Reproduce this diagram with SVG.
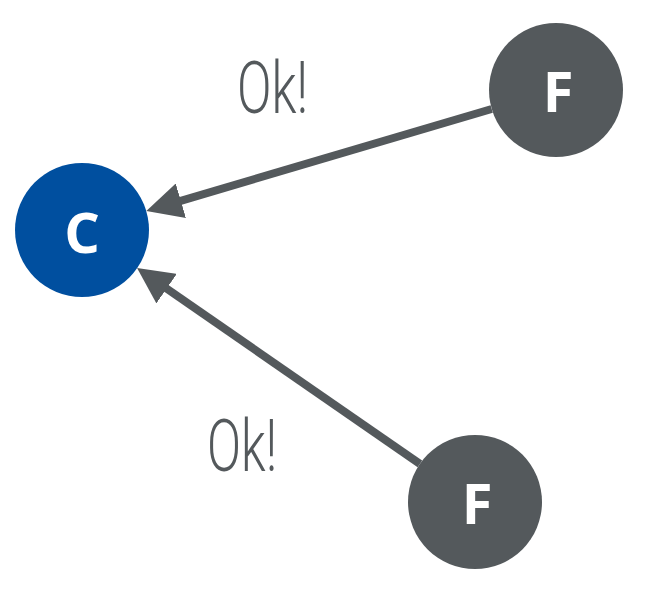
<svg xmlns="http://www.w3.org/2000/svg" width="657" height="601" viewBox="0 0 657 601">
<style>
.edge{stroke:#54595c;stroke-width:8;fill:none}
.nodeF{fill:#54595c}
.nodeC{fill:#004f9f}
.nl{font-family:"Open Sans","Liberation Sans",sans-serif;font-weight:700;font-size:56px;fill:#ffffff;text-anchor:middle}
.lbl{font-family:Roboto,"Liberation Sans",sans-serif;font-weight:300;font-size:73px;fill:#54595c}
</style>
<defs>
<marker id="arr" markerUnits="userSpaceOnUse" viewBox="0 0 36 36" markerWidth="36" markerHeight="36" refX="16" refY="18" orient="auto">
<path d="M0,0 L36,18 L0,36 z" fill="#54595c"/>
</marker>
</defs>
<rect width="657" height="601" fill="#ffffff"/>
<g id="connectors">
<line class="edge" x1="491.7" y1="109" x2="165.5" y2="205.3" marker-end="url(#arr)"/>
<line class="edge" x1="419.9" y1="463.9" x2="153.5" y2="279.5" marker-end="url(#arr)"/>
<text class="lbl" x="237" y="113" textLength="71" lengthAdjust="spacingAndGlyphs">Ok!</text>
<text class="lbl" x="207" y="471" textLength="70" lengthAdjust="spacingAndGlyphs">Ok!</text>
</g>
<g id="node-C">
<circle class="nodeC" cx="82" cy="230" r="67"/>
<text class="nl" x="82" y="253">C</text>
</g>
<g id="node-F1">
<circle class="nodeF" cx="556" cy="90" r="67"/>
<text class="nl" x="558" y="112">F</text>
</g>
<g id="node-F2">
<circle class="nodeF" cx="475" cy="502" r="67"/>
<text class="nl" x="477" y="524">F</text>
</g>
</svg>
